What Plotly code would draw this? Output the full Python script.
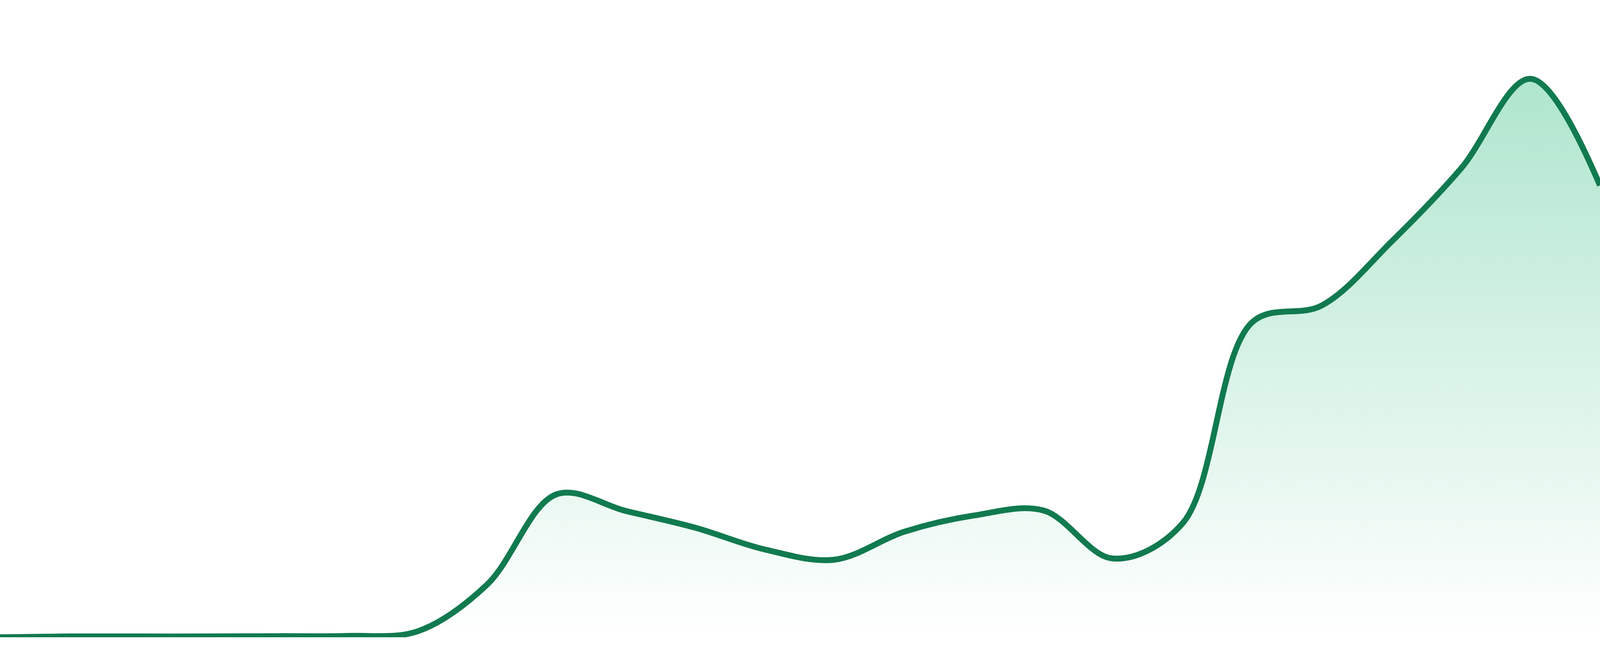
import plotly.graph_objects as go

# Dados (um ponto por período)
periodos = [1, 2, 3, 4, 5, 6, 7, 8, 9, 10, 11, 12,
            13, 14, 15, 16, 17, 18, 19, 20, 21, 22, 23, 24]
valores = [0, 0.15, 0.15, 0.15, 0.2, 0.25, 1.05, 9.4, 25.6, 22.6, 19.6, 15.7,
           13.9, 18.9, 21.8, 22.7, 14.1, 20.4, 56.4, 59.4, 70.8, 83.9, 100, 80.9]

cor_linha = '#117A4F'

fig = go.Figure()

# Área com gradiente vertical e linha suavizada
fig.add_trace(go.Scatter(
    x=periodos,
    y=valores,
    mode='lines',
    line=dict(color=cor_linha, width=15, shape='spline', smoothing=1),
    fill='tozeroy',
    fillgradient=dict(
        type='vertical',
        start=0,
        stop=114.1,
        colorscale=[[0, 'rgba(52, 190, 130, 0)'], [1, 'rgba(52, 190, 130, 0.45)']],
    ),
    hoverinfo='skip',
    showlegend=False,
))

# Layout sem eixos, ocupando a janela toda (a base fica um pouco acima do fundo)
fig.update_layout(
    autosize=True,
    margin=dict(l=0, r=0, t=0, b=0, pad=0),
    paper_bgcolor='white',
    plot_bgcolor='white',
    xaxis=dict(range=[1, 24], domain=[0, 1], visible=False, fixedrange=True),
    yaxis=dict(range=[0, 114.1], domain=[48 / 1680, 1], visible=False, fixedrange=True),
)

fig.write_html(
    "out.html",
    config={'displayModeBar': False, 'responsive': True},
    default_width='100vw',
    default_height='100vh',
    post_script="document.body.style.margin='0';document.body.style.overflow='hidden';",
)
